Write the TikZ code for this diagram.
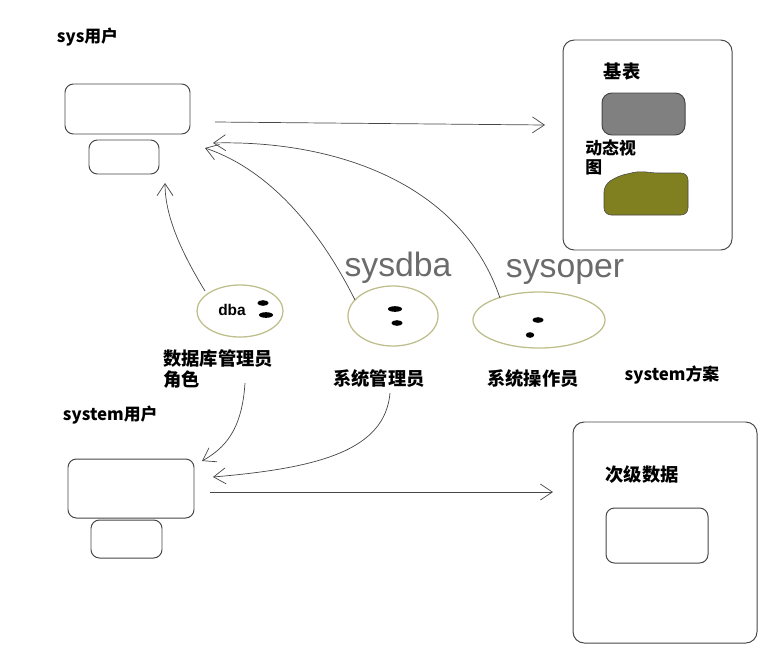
\documentclass[tikz,border=0pt]{standalone}
\usepackage{fontspec}
\setmainfont{Liberation Sans}
\newfontfamily\cjk{Noto Sans CJK SC}
\usetikzlibrary{arrows.meta, positioning, calc, shapes.geometric}
\definecolor{cLine}{RGB}{70,70,70}
\definecolor{cRing}{RGB}{190,190,140}
\definecolor{cBase}{RGB}{128,128,128}
\definecolor{cView}{RGB}{128,128,32}
\tikzset{
	ubox/.style={draw=cLine, rounded corners=6pt, line width=0.7pt, fill=white},
	frame/.style={draw=cLine, rounded corners=8pt, line width=0.7pt},
	role/.style={ellipse, draw=cRing, line width=0.9pt, inner sep=0pt},
	lbl/.style={font=\cjk\bfseries\fontsize{13}{15}\selectfont, align=left},
	hand/.style={font=\fontsize{24}{26}\selectfont, text=cLine!80},
	arr/.style={-{Straight Barb[length=3mm, width=4mm]}, draw=cLine, line width=0.5pt},
	blob/.style={fill=black, ellipse, inner sep=0pt, minimum width=10pt, minimum height=4pt},
}
\begin{document}
\begin{tikzpicture}[x=0.025cm, y=-0.025cm]
\useasboundingbox (0,0) rectangle (774,651);
% sys users
\node[lbl, anchor=west, font=\cjk\bfseries\fontsize{12}{14}\selectfont] (sysUser) at (52,37) {sys用户};
\draw[ubox] (65,84) rectangle (190,134);
\node (sysMain) at (127,109) {};
\draw[ubox] (89,140) rectangle (159,174);
\node (sysSub) at (124,157) {};
% base tables and views
\draw[frame] (563,40) rectangle (732,250);
\node (tblFrame) at (563,125) {};
\node[lbl] (baseLbl) at (622,72) {基表};
\draw[ubox, fill=cBase, rounded corners=7pt] (602,93) rectangle (685,135);
\node[lbl, anchor=north west, inner sep=0pt, font=\cjk\bfseries\fontsize{12}{13}\selectfont] (viewLbl) at (585,140) {动态视\\图};
\draw[draw=cLine, fill=cView, rounded corners=5pt] (604,185) -- (618,176) -- (640,171) -- (652,173) -- (688,173) -- (688,215) -- (604,215) -- cycle;
\draw[arr] (215,122) -- (545,125);
% roles
\node[role, minimum width=2.15cm, minimum height=1.3cm] (roleDba) at (240,311) {};
\node[font=\bfseries\fontsize{11}{13}\selectfont] at (232,310) {dba};
\node[blob, minimum width=8pt] at (263,303) {};
\node[blob, minimum width=10pt] at (266,315) {};
\node[role, minimum width=2.25cm, minimum height=1.5cm] (roleSysdba) at (393,316) {};
\node[blob] at (395,309) {};
\node[blob, minimum width=8pt] at (397,323) {};
\node[role, minimum width=3.3cm, minimum height=1.4cm] (roleSysoper) at (539,320) {};
\node[blob, minimum width=8pt] at (538,320) {};
\node[blob, minimum width=6pt] at (530,335) {};
\node[hand] (hDba) at (398,268) {sysdba};
\node[hand] (hOper) at (565,272) {sysoper};
\node[lbl, anchor=north west, inner sep=0pt] (dbaLbl) at (163,349) {数据库管理员\\角色};
\node[lbl] (sysdbaLbl) at (379,379) {系统管理员};
\node[lbl] (sysoperLbl) at (533,379) {系统操作员};
\node[lbl, font=\cjk\bfseries\fontsize{12}{14}\selectfont] (schemaLbl) at (672,375) {system方案};
% arrows to sys
\draw[arr] (205,291) .. controls (180,250) and (165,215) .. (165,183);
\draw[arr] (355,300) .. controls (320,230) and (270,170) .. (205,148);
\draw[arr] (500,298) .. controls (460,180) and (330,140) .. (213,143);
% system users
\node[lbl, anchor=west, font=\cjk\bfseries\fontsize{12}{14}\selectfont] (systemUser) at (58,415) {system用户};
\draw[ubox] (68,459) rectangle (194,518);
\node (systemMain) at (131,488) {};
\draw[ubox] (91,520) rectangle (162,558);
\node (systemSub) at (126,539) {};
% secondary data
\draw[frame] (573,422) rectangle (757,643);
\node[lbl] (subLbl) at (642,475) {次级数据};
\draw[ubox] (606,508) rectangle (708,563);
\node (schemaBox) at (657,535) {};
\draw[arr] (210,492) -- (553,492);
% arrows to system
\draw[arr] (245,383) .. controls (242,430) and (225,448) .. (202,461);
\draw[arr] (390,393) .. controls (385,450) and (320,468) .. (213,477);
\end{tikzpicture}
\end{document}
